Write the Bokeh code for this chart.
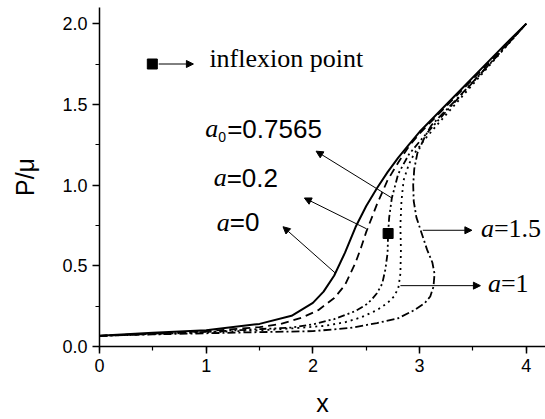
from bokeh.plotting import figure
from bokeh.models import Range1d, Arrow, NormalHead, Label, SingleIntervalTicker, NumeralTickFormatter
from bokeh.embed import file_html
from bokeh.resources import INLINE

# ---- data ----
x_a0 = [0, 0.5, 1.0, 1.5, 1.8, 2.0, 2.1, 2.2, 2.3, 2.4, 2.5, 2.6, 2.7, 2.8, 2.9, 3.0, 3.2, 3.4, 3.6, 3.8, 4.0]
y_a0 = [0.066, 0.085, 0.10, 0.14, 0.19, 0.27, 0.34, 0.44, 0.58, 0.74, 0.87, 0.98, 1.08, 1.17, 1.25, 1.33, 1.465, 1.60, 1.735, 1.87, 2.0]

x_a02 = [0, 0.5, 1.0, 1.5, 1.7, 1.9, 2.05, 2.2, 2.3, 2.4, 2.45, 2.5, 2.6, 2.7, 2.8, 2.9, 3.0, 3.2, 3.4, 3.6, 3.8, 4.0]
y_a02 = [0.066, 0.08, 0.095, 0.12, 0.14, 0.18, 0.225, 0.30, 0.38, 0.52, 0.61, 0.71, 0.88, 1.03, 1.14, 1.24, 1.32, 1.455, 1.59, 1.725, 1.86, 2.0]

x_acrit = [0, 0.5, 1.0, 1.5, 1.8, 2.0, 2.2, 2.4, 2.5, 2.55, 2.6, 2.65, 2.68, 2.70, 2.705, 2.715, 2.74, 2.8, 2.9, 3.0, 3.2, 3.4, 3.6, 3.8, 4.0]
y_acrit = [0.066, 0.078, 0.09, 0.108, 0.117, 0.137, 0.17, 0.22, 0.26, 0.29, 0.33, 0.39, 0.48, 0.58, 0.70, 0.80, 0.92, 1.07, 1.19, 1.27, 1.42, 1.565, 1.71, 1.855, 2.0]

x_a1 = [0, 0.5, 1.0, 1.5, 1.8, 2.1, 2.3, 2.45, 2.6, 2.7, 2.76, 2.8, 2.82, 2.825, 2.82, 2.83, 2.85, 2.9, 2.95, 3.05, 3.2, 3.4, 3.6, 3.8, 4.0]
y_a1 = [0.066, 0.077, 0.088, 0.10, 0.112, 0.127, 0.15, 0.18, 0.225, 0.27, 0.31, 0.36, 0.45, 0.60, 0.75, 0.90, 1.03, 1.13, 1.195, 1.285, 1.40, 1.55, 1.70, 1.85, 2.0]

x_a15 = [0, 0.5, 1.0, 1.5, 2.0, 2.35, 2.6, 2.8, 2.95, 3.05, 3.1, 3.13, 3.14, 3.12, 3.07, 3.01, 2.97, 2.945, 2.94, 2.95, 2.98, 3.05, 3.11, 3.33, 3.5, 3.7, 3.85, 4.0]
y_a15 = [0.066, 0.075, 0.082, 0.089, 0.095, 0.115, 0.145, 0.175, 0.225, 0.27, 0.31, 0.37, 0.45, 0.52, 0.60, 0.72, 0.80, 0.90, 1.00, 1.10, 1.20, 1.30, 1.37, 1.52, 1.64, 1.78, 1.89, 2.0]

inflex_x = [2.705]
inflex_y = [0.70]
key_marker_x = [0.495]
key_marker_y = [1.75]

x_ticks_interval = 1
y_ticks_interval = 0.5

# ---- figure ----
p = figure(width=545, height=419, x_range=Range1d(0, 4.18), y_range=Range1d(0, 2.10),
           output_backend="svg", toolbar_location=None,
           min_border_left=99, min_border_right=0, min_border_top=7, min_border_bottom=72)
p.outline_line_color = None
p.grid.visible = False

for ax, iv in ((p.xaxis, x_ticks_interval), (p.yaxis, y_ticks_interval)):
    ax.ticker = SingleIntervalTicker(interval=iv, num_minor_ticks=2)
    ax.axis_line_width = 1.5
    ax.axis_line_color = "black"
    ax.major_tick_line_color = "black"
    ax.minor_tick_line_color = "black"
    ax.major_tick_line_width = 1.5
    ax.minor_tick_line_width = 1.2
    ax.major_tick_in = 0
    ax.major_tick_out = 7
    ax.minor_tick_in = 0
    ax.minor_tick_out = 4
    ax.major_label_text_font = "Liberation Sans"
    ax.major_label_text_font_size = "18px"
    ax.major_label_text_color = "black"
    ax.major_label_standoff = 5
    ax.axis_label_text_font = "Liberation Sans"
    ax.axis_label_text_font_size = "25px"
    ax.axis_label_text_font_style = "normal"
    ax.axis_label_text_color = "black"

p.yaxis.formatter = NumeralTickFormatter(format="0.0")
p.xaxis.axis_label = "x"
p.yaxis.axis_label = "P/\u03bc"
p.xaxis.axis_label_standoff = 14
p.yaxis.axis_label_standoff = 20

# curves
p.line(x_a0, y_a0, line_color="black", line_width=2)
p.line(x_a02, y_a02, line_color="black", line_width=1.8, line_dash="8 5")
p.line(x_acrit, y_acrit, line_color="black", line_width=1.8, line_dash="7 3 2 3 2 3")
p.line(x_a1, y_a1, line_color="black", line_width=1.8, line_dash="2 4")
p.line(x_a15, y_a15, line_color="black", line_width=1.8, line_dash="8 3 2 3")

p.scatter(inflex_x, inflex_y, marker="square", size=10, color="black")
p.scatter(key_marker_x, key_marker_y, marker="square", size=10, color="black")

def arrow(x0, y0, x1, y1):
    p.add_layout(Arrow(x_start=x0, y_start=y0, x_end=x1, y_end=y1, line_width=1, line_color="black",
                       end=NormalHead(size=7, fill_color="black", line_color="black", line_width=1)))

arrow(0.555, 1.75, 0.88, 1.75)
arrow(2.74, 0.92, 2.03, 1.21)
arrow(2.50, 0.73, 1.92, 0.92)
arrow(2.21, 0.455, 1.72, 0.742)
arrow(3.03, 0.72, 3.49, 0.72)
arrow(2.82, 0.377, 3.57, 0.377)

SERIF = "Liberation Serif"
SANS = "Liberation Sans"
DY = 8  # raise labels so their baselines sit where the reference has them

def lab(x, y, text, font, size="26px", style="normal", xo=0, yo=0):
    p.add_layout(Label(x=x, y=y, text=text, text_font=font, text_font_size=size,
                       text_font_style=style, x_offset=xo, y_offset=yo + DY,
                       text_baseline="alphabetic", text_align="left", text_color="black"))

lab(1.03, 1.737, "inflexion point", SERIF)

lab(0.99, 1.30, "a", SERIF, style="italic")
lab(0.99, 1.30, "0", SANS, size="14px", xo=13, yo=-8)
lab(0.99, 1.30, "=0.7565", SANS, xo=22)

lab(1.07, 0.997, "a", SERIF, style="italic")
lab(1.07, 0.997, "=0.2", SANS, xo=13)

lab(1.10, 0.72, "a", SERIF, style="italic")
lab(1.10, 0.72, "=0", SANS, xo=13)

lab(3.575, 0.683, "a", SERIF, style="italic")
lab(3.575, 0.683, "=1.5", SERIF, xo=13)

lab(3.64, 0.342, "a", SERIF, style="italic")
lab(3.64, 0.342, "=1", SERIF, xo=13)

open("out.html", "w").write(file_html(p, INLINE))
